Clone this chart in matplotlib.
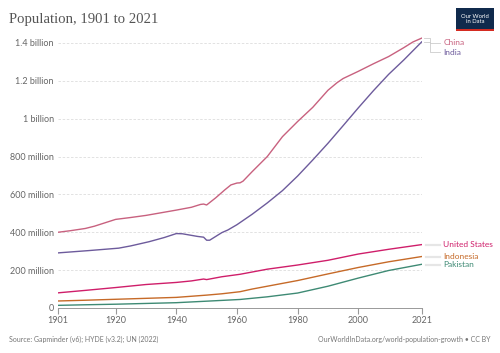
import matplotlib.pyplot as plt
from matplotlib.patches import Rectangle

# Population in millions
china_years = [1901, 1905, 1910, 1913, 1920, 1925, 1930, 1935, 1940, 1945, 1948, 1949, 1950,
               1953, 1956, 1958, 1959, 1960, 1961, 1962, 1965, 1970, 1975, 1980, 1985, 1990,
               1993, 1995, 2000, 2005, 2010, 2015, 2018, 2021]
china_pop = [400, 408, 420, 432, 468, 478, 489, 503, 517, 532, 547, 549, 544,
             582, 624, 650, 655, 660, 661, 670, 720, 800, 905, 985, 1060, 1150,
             1190, 1212, 1250, 1290, 1328, 1375, 1405, 1426]

india_years = [1901, 1911, 1921, 1925, 1931, 1936, 1940, 1942, 1947, 1949, 1950, 1951, 1955,
               1957, 1960, 1965, 1970, 1975, 1980, 1985, 1990, 1995, 2000, 2005, 2010, 2015, 2021]
india_pop = [291, 303, 316, 328, 350, 372, 393, 392, 378, 374, 358, 358, 398,
             412, 440, 495, 555, 620, 697, 782, 870, 963, 1057, 1148, 1234, 1310, 1407]

us_years = [1901, 1910, 1920, 1930, 1940, 1945, 1949, 1950, 1955, 1961, 1970, 1980, 1990,
            2000, 2010, 2021]
us_pop = [80, 93, 108, 124, 135, 143, 153, 150, 165, 178, 205, 227, 252, 285, 310, 335]

indonesia_years = [1901, 1910, 1920, 1930, 1940, 1950, 1955, 1961, 1965, 1970, 1980, 1990,
                   2000, 2010, 2021]
indonesia_pop = [37, 41, 46, 51, 56, 68, 75, 86, 100, 115, 145, 180, 214, 244, 272]

pakistan_years = [1901, 1910, 1920, 1930, 1940, 1950, 1961, 1970, 1980, 1990, 2000, 2010, 2021]
pakistan_pop = [14, 17, 20, 24, 28, 36, 45, 59, 79, 115, 158, 198, 231]

series = [
    ("China", china_years, china_pop, "#C8617F"),
    ("India", india_years, india_pop, "#6D5B9C"),
    ("United States", us_years, us_pop, "#CF1E6A"),
    ("Indonesia", indonesia_years, indonesia_pop, "#C66A28"),
    ("Pakistan", pakistan_years, pakistan_pop, "#3E8A74"),
]

y_ticks = [0, 200, 400, 600, 800, 1000, 1200, 1400]
y_tick_labels = ["0", "200 million", "400 million", "600 million", "800 million",
                 "1 billion", "1.2 billion", "1.4 billion"]
x_ticks = [1901, 1920, 1940, 1960, 1980, 2000, 2021]

# label positions (millions) chosen to avoid overlap, as in the reference
label_y = {"China": 1400, "India": 1352, "United States": 333,
           "Indonesia": 270, "Pakistan": 229}

plt.rcParams['font.family'] = ['Lato', 'DejaVu Sans']

fig = plt.figure(figsize=(5, 3.53), dpi=100)
ax = fig.add_axes([0.116, 0.1275, 0.728, 0.767])

for name, yrs, vals, color in series:
    ax.plot(yrs, vals, color=color, lw=1.0, solid_capstyle="round")

ax.set_xlim(1901, 2021)
ax.set_ylim(0, 1430)

ax.set_yticks(y_ticks)
ax.set_yticklabels(y_tick_labels)
ax.set_xticks(x_ticks)
ax.set_xticklabels([str(t) for t in x_ticks])
ax.tick_params(axis="y", length=0, labelsize=6.5, labelcolor="#666666", pad=3)
ax.tick_params(axis="x", length=4, color="#999999", labelsize=6.5,
               labelcolor="#666666", pad=2)

for t in y_ticks[1:]:
    ax.axhline(t, color="#dddddd", lw=0.6, ls=(0, (3, 2)), zorder=0)

for side in ["top", "right", "left"]:
    ax.spines[side].set_visible(False)
ax.spines["bottom"].set_color("#999999")
ax.spines["bottom"].set_linewidth(0.7)

# connectors and labels to the right of the plot
x_end = 2021.6
for name, yrs, vals, color in series:
    ly = label_y[name]
    last = vals[-1]
    if name in ("China", "India"):
        xs = [x_end, 2023.6, 2023.6, 2027.0]
        ys = [last, last, ly, ly]
        ax.plot(xs, ys, color="#cccccc", lw=0.6, clip_on=False)
    else:
        ax.plot([x_end + 0.6, 2027.0], [ly, ly], color="#e6e6e6", lw=1.6,
                clip_on=False)
    ax.text(2028.0, ly, name, color=color, fontsize=6.0, va="center",
            ha="left", clip_on=False)

fig.text(0.018, 0.935, "Population, 1901 to 2021", family="Liberation Serif",
         fontsize=10.6, color="#555555", va="baseline")

# Our World in Data logo
fig.patches.append(Rectangle((0.912, 0.918), 0.076, 0.058, transform=fig.transFigure,
                             facecolor="#102A4C", edgecolor="none"))
fig.patches.append(Rectangle((0.912, 0.912), 0.076, 0.007, transform=fig.transFigure,
                             facecolor="#D42B21", edgecolor="none"))
fig.text(0.950, 0.947, "Our World\nin Data", color="white", fontsize=4.2,
         ha="center", va="center", linespacing=1.0)

fig.text(0.018, 0.032, "Source: Gapminder (v6); HYDE (v3.2); UN (2022)",
         fontsize=5, color="#777777", va="baseline")
fig.text(0.982, 0.032, "OurWorldInData.org/world-population-growth • CC BY",
         fontsize=5, color="#777777", va="baseline", ha="right")

fig.savefig("out.png", dpi=100)
